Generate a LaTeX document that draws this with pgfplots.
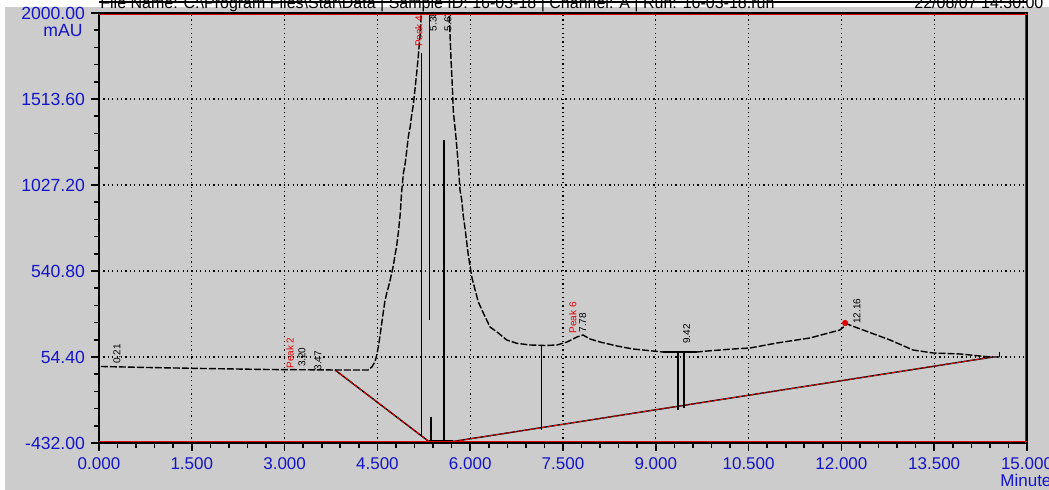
\documentclass[border=0pt]{standalone}
\usepackage{fontspec}
\setmainfont{Liberation Sans}
\usepackage{pgfplots}
\pgfplotsset{compat=1.18}
\definecolor{bg}{RGB}{204,204,204}
\definecolor{lblue}{RGB}{20,20,200}
\definecolor{rred}{RGB}{225,0,0}
\begin{document}
\begin{tikzpicture}[x=1pt,y=1pt]
\fill[white] (0,0) rectangle (524.5,245);
\fill[bg] (2.5,0) rectangle (524.5,241.5);
% header (cut at the top like the original)
\node[anchor=base west, inner sep=0pt, font=\fontsize{8}{9}\selectfont] at (50,240.5)
  {File Name: C:\textbackslash Program Files\textbackslash Star\textbackslash Data | Sample ID: 16-03-18 | Channel: A | Run: 16-03-18.run};
\node[anchor=base west, inner sep=0pt, font=\fontsize{8}{9}\selectfont] at (457,240.5) {22/08/07 14:30:00};
\draw[black, line width=0.8pt] (49.5,244) -- (513.5,244);
\begin{axis}[
  at={(49.5pt,23.5pt)}, anchor=south west,
  scale only axis, width=464pt, height=215pt,
  xmin=0, xmax=15, ymin=-432, ymax=2000,
  xtick={0,1.5,3,4.5,6,7.5,9,10.5,12,13.5,15},
  xticklabels={0.000,1.500,3.000,4.500,6.000,7.500,9.000,10.500,12.000,13.500,15.000},
  ytick={-432,54.4,540.8,1027.2,1513.6,2000},
  yticklabels={-432.00,54.40,540.80,1027.20,1513.60,2000.00},
  minor x tick num=4, minor y tick num=4,
  tick pos=left, tick align=outside,
  major tick length=4pt, minor tick length=2.5pt,
  tick style={black, line width=0.8pt},
  grid=major,
  major grid style={black, line width=0.6pt, dash pattern=on 0.6pt off 1.6pt},
  axis line style={black, line width=1pt},
  xticklabel style={font=\fontsize{8.5}{10}\selectfont, text=lblue},
  yticklabel style={font=\fontsize{8.8}{10}\selectfont, text=lblue, xshift=0.5pt},
  clip=true,
]
% integration baselines
\addplot[black, line width=0.7pt] coordinates {(3.815,-19.1) (5.33,-423)};
\addplot[rred, line width=0.5pt, dash pattern=on 2pt off 1pt] coordinates {(3.815,-19.1) (5.33,-423)};
\addplot[black, line width=1.2pt] coordinates {(5.33,-423.5) (5.722,-423.5)};
\addplot[black, line width=0.7pt] coordinates {(5.722,-423.5) (14.45,54.4)};
\addplot[rred, line width=0.5pt, dash pattern=on 2pt off 1pt] coordinates {(5.722,-423.5) (14.45,54.4)};
% drop lines
\addplot[black, line width=0.8pt] coordinates {(5.216,1774) (5.216,-398)};
\addplot[black, line width=0.8pt] coordinates {(5.339,2000) (5.339,263.7)};
\addplot[black, line width=0.8pt] coordinates {(5.366,-285) (5.366,-426)};
\addplot[black, line width=0.8pt] coordinates {(5.577,1281.7) (5.577,-426)};
\addplot[black, line width=0.8pt] coordinates {(7.152,116.6) (7.152,-358.5)};
\addplot[black, line width=0.8pt] coordinates {(9.359,82.6) (9.359,-245)};
\addplot[black, line width=0.8pt] coordinates {(9.456,82.6) (9.456,-234)};
\addplot[black, line width=0.6pt] coordinates {(14.56,54.4) (14.56,82)};
% chromatogram trace
\addplot[black, line width=0.7pt, dash pattern=on 3.5pt off 1pt] coordinates {
(0.03,0.7)(0.78,-5)(1.68,-10.6)(2.72,-16.3)(3.82,-19.1)(4.35,-19.1)(4.41,-2.2)(4.46,26.1)
(4.49,65.7)(4.52,122.3)(4.54,169.2)(4.57,245)(4.60,320.2)(4.62,367.2)(4.65,414.7)(4.68,452)
(4.70,480.3)(4.73,527.8)(4.76,574.7)(4.78,621.7)(4.81,678.2)(4.84,763.1)(4.87,867.1)(4.89,980.3)
(4.92,1093.4)(4.95,1151.6)(4.97,1208.2)(5.00,1300.4)(5.03,1356.9)(5.05,1413.5)(5.08,1479.7)
(5.11,1575.8)(5.14,1677.6)(5.16,1751.1)(5.19,1875.6)(5.21,2000)(5.25,2150)(5.45,2250)(5.62,2150)
(5.657,2000)(5.673,1886.9)(5.690,1734.2)(5.711,1587.1)(5.727,1445.7)(5.771,1293)(5.808,1140.3)
(5.835,998.9)(5.863,942.4)(5.888,851.9)(5.916,784)(5.943,704.8)(5.969,631.3)(6.029,501.2)
(6.131,365.5)(6.212,303.3)(6.320,224.1)(6.454,190.1)(6.590,150.6)(6.752,131.9)(6.967,122.3)
(7.209,119.4)(7.403,122.3)(7.565,139.2)(7.726,167.5)(7.823,178.8)(7.936,156.2)(8.098,139.2)
(8.373,116.6)(8.631,99.6)(8.955,88.1)(9.116,82.6)(9.666,82.6)(9.828,88.1)(10.248,99.6)
(10.523,105.3)(10.959,133.6)(11.492,161.9)(11.977,207.2)(12.090,241.1)(12.349,207.2)
(12.785,150.6)(13.157,94)(13.481,77)(13.917,71.4)(14.402,54.4)(14.563,54.4)};
\addplot[black, line width=1pt] coordinates {(9.116,82.6)(9.666,82.6)};
\addplot[only marks, mark=*, rred, mark size=1.3pt] coordinates {(12.06,247)};
% peak labels
\node[rotate=90, anchor=west, inner sep=0.5pt, font=\fontsize{5}{5}\selectfont] at (axis cs:0.29,9) {0.21};
\node[rotate=90, anchor=west, inner sep=0.5pt, font=\fontsize{5}{5}\selectfont, text=rred] at (axis cs:3.09,-19) {Peak 2};
\node[rotate=90, anchor=west, inner sep=0.5pt, font=\fontsize{5}{5}\selectfont] at (axis cs:3.28,-10) {3.20};
\node[rotate=90, anchor=west, inner sep=0.5pt, font=\fontsize{5}{5}\selectfont] at (axis cs:3.54,-30) {3.47};
\node[rotate=90, anchor=west, inner sep=0.5pt, font=\fontsize{5}{5}\selectfont, text=rred] at (axis cs:5.17,1800) {Peak 4};
\node[rotate=90, anchor=west, inner sep=0.5pt, font=\fontsize{5}{5}\selectfont] at (axis cs:5.40,1890) {5.38};
\node[rotate=90, anchor=west, inner sep=0.5pt, font=\fontsize{5}{5}\selectfont] at (axis cs:5.64,1890) {5.63};
\node[rotate=90, anchor=west, inner sep=0.5pt, font=\fontsize{5}{5}\selectfont, text=rred] at (axis cs:7.66,180) {Peak 6};
\node[rotate=90, anchor=west, inner sep=0.5pt, font=\fontsize{5}{5}\selectfont] at (axis cs:7.82,185) {7.78};
\node[rotate=90, anchor=west, inner sep=0.5pt, font=\fontsize{5}{5}\selectfont] at (axis cs:9.50,122) {9.42};
\node[rotate=90, anchor=west, inner sep=0.5pt, font=\fontsize{5}{5}\selectfont] at (axis cs:12.25,235) {12.16};
% red inner frame lines
\draw[rred, line width=0.6pt] ([yshift=-0.9pt]rel axis cs:0,1) -- ([yshift=-0.9pt]rel axis cs:1,1);
\draw[rred, line width=0.6pt] ([yshift=0.9pt]rel axis cs:0,0) -- ([yshift=0.9pt]rel axis cs:1,0);
\draw[rred, line width=0.6pt] ([xshift=-0.9pt]rel axis cs:1,0) -- ([xshift=-0.9pt]rel axis cs:1,1);
\end{axis}
\node[anchor=east, inner sep=0pt, font=\fontsize{8.8}{10}\selectfont, text=lblue] at (41.5,229.5) {mAU};
\node[anchor=west, inner sep=0pt, font=\fontsize{8.5}{10}\selectfont, text=lblue] at (500,5) {Minutes};
\pgfresetboundingbox
\path[use as bounding box] (0,0) rectangle (524.5,245);
\end{tikzpicture}
\end{document}
